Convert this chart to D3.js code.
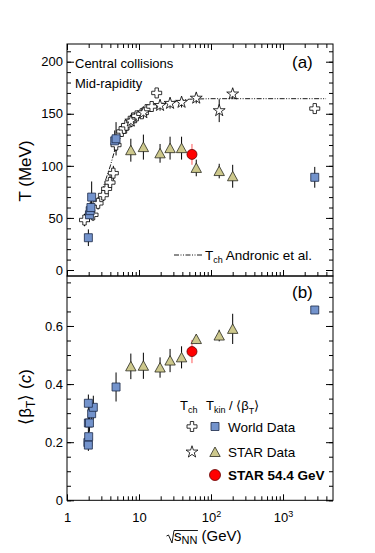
<!DOCTYPE html>
<html>
<head>
<meta charset="utf-8">
<script src="https://cdn.jsdelivr.net/npm/d3@7"></script>
<style>
  body { margin: 0; background: #fff; }
  svg text { font-family: "Liberation Sans", Arial, Helvetica, sans-serif; fill: #000; }
</style>
</head>
<body>
<svg id="chart" width="375" height="553"></svg>
<script>
// ---- data ----
var xMajor = [1, 10, 100, 1000];

// (a) temperatures, MeV
var worldTchE   = [1.75, 2.3, 2.7, 3.2, 3.55, 3.96, 4.4, 4.8, 5.75, 6.2, 6.7, 7.9, 8.3, 9.3, 10.9, 12.8, 15, 17.6, 2760];
var worldTch    = [48, 53, 64, 72, 78, 84, 93, 120, 133, 136, 139, 143, 146, 148, 150, 154, 157, 170, 155];
var worldTchErr = [6, 6, 6, 6, 6, 7, 7, 6, 5, 5, 5, 5, 5, 4, 4, 4, 4, 4, 3];

var worldTkinE   = [1.98, 2.05, 2.1, 2.15, 2.2, 4.6, 4.8, 2760];
var worldTkin    = [31, 53, 57, 60, 70, 124, 126, 89];
var worldTkinErr = [8, 7, 8, 8, 15, 10, 16, 10];

var starE       = [7.7, 11.5, 19.6, 27, 39, 62.4, 130, 200];
var starTch     = [143, 151, 158, 160, 161, 165, 153, 169];
var starTchErr  = [5, 5, 5, 5, 5, 5, 11, 5];
var starTkin    = [115, 118, 112, 117, 117, 98, 95, 90];
var starTkinErr = [11, 12, 9, 11, 11, 8, 7, 11];

var star54E = [54.4];
var star54T = [111], star54TErr = [10];
var star54B = [0.512], star54BErr = [0.04];

// Andronic et al. chemical freeze-out curve
var andronicE = [1.9, 2.2, 2.6, 3, 3.5, 4, 4.6, 5, 6, 7, 8, 10, 12, 15, 20, 30, 50, 100, 1000, 3960];
var andronicT = [46, 55, 66, 74, 88, 100, 115, 122, 131, 137, 142, 148, 153, 157, 160, 162, 164, 164.5, 164.5, 164.5];

// (b) radial flow velocity
var worldBetaE   = [1.95, 1.98, 2.0, 1.98, 2.05, 2.2, 2.32, 1.98, 4.8, 2760];
var worldBeta    = [0.199, 0.19, 0.219, 0.266, 0.266, 0.298, 0.32, 0.334, 0.39, 0.655];
var worldBetaErr = [0.02, 0.02, 0.02, 0.03, 0.03, 0.04, 0.04, 0.03, 0.05, 0.012];

var starBeta    = [0.461, 0.463, 0.457, 0.481, 0.492, 0.555, 0.567, 0.59];
var starBetaErr = [0.044, 0.045, 0.035, 0.04, 0.038, 0.015, 0.02, 0.052];

// ---- layout ----
var X0 = 67, X1 = 333;
var topY0 = 44, midY = 276, botY1 = 500.3;
var blue = '#7393cc', khaki = '#cdc88c', red = '#ff0000';

var svg = d3.select('#chart');
var x  = d3.scaleLog().domain([1, 4945]).range([X0, X1]);
var yT = d3.scaleLinear().domain([-5.76, 217]).range([midY, topY0]);
var yB = d3.scaleLinear().domain([0, 0.772]).range([botY1, midY]);

var xMinor = x.ticks().filter(function(v){ return xMajor.indexOf(v) < 0; });

function zip(E, V, Er){ return E.map(function(e,i){ return {e:e, v:V[i], err:Er[i]}; }); }

function cleanAxis(g, size){
  g.select('.domain').remove();
  g.attr('font-family', null).attr('font-size', size || 13);
  g.selectAll('.tick line').attr('stroke', '#000');
}

// y axes (left with labels, right mirrored), ticks inside
function yAxes(y, major, minor, fmt){
  cleanAxis(svg.append('g').attr('transform','translate('+X0+',0)')
    .call(d3.axisLeft(y).tickValues(major).tickSize(-7).tickPadding(4).tickFormat(fmt)));
  cleanAxis(svg.append('g').attr('transform','translate('+X0+',0)')
    .call(d3.axisLeft(y).tickValues(minor).tickSize(-4).tickFormat('')));
  cleanAxis(svg.append('g').attr('transform','translate('+X1+',0)')
    .call(d3.axisRight(y).tickValues(major).tickSize(-7).tickFormat('')));
  cleanAxis(svg.append('g').attr('transform','translate('+X1+',0)')
    .call(d3.axisRight(y).tickValues(minor).tickSize(-4).tickFormat('')));
}

yAxes(yT, [0,50,100,150,200], yT.ticks(20), d3.format('d'));
yAxes(yB, [0,0.2,0.4,0.6], yB.ticks(15), function(d){ return d === 0 ? '0' : d3.format('.1f')(d); });

// x axes
cleanAxis(svg.append('g').attr('transform','translate(0,'+topY0+')')
  .call(d3.axisTop(x).tickValues(xMajor).tickSize(-6).tickFormat('')));
cleanAxis(svg.append('g').attr('transform','translate(0,'+topY0+')')
  .call(d3.axisTop(x).tickValues(xMinor).tickSize(-4).tickFormat('')));
cleanAxis(svg.append('g').attr('transform','translate(0,'+midY+')')
  .call(d3.axisBottom(x).tickValues(xMajor).tickSize(-6).tickFormat('')));
cleanAxis(svg.append('g').attr('transform','translate(0,'+midY+')')
  .call(d3.axisBottom(x).tickValues(xMinor).tickSize(-4).tickFormat('')));
cleanAxis(svg.append('g').attr('transform','translate(0,'+botY1+')')
  .call(d3.axisBottom(x).tickValues(xMinor).tickSize(-4).tickFormat('')));
var xLab = svg.append('g').attr('transform','translate(0,'+botY1+')')
  .call(d3.axisBottom(x).tickValues(xMajor).tickSize(-6).tickPadding(12).tickFormat(function(d){ return d < 100 ? String(d) : '10'; }));
cleanAxis(xLab);
xLab.selectAll('.tick text').each(function(d){
  var p = Math.round(Math.log10(d));
  if (p >= 2) d3.select(this).append('tspan').attr('dy', -5).attr('font-size', 9).text(p);
});

// frames
svg.append('rect').attr('x', X0).attr('y', topY0).attr('width', X1-X0).attr('height', midY-topY0)
  .attr('fill','none').attr('stroke','#000').attr('stroke-width',1);
svg.append('rect').attr('x', X0).attr('y', midY).attr('width', X1-X0).attr('height', botY1-midY)
  .attr('fill','none').attr('stroke','#000').attr('stroke-width',1);

// marker shapes
var crossPath = 'M-1.7,-5H1.7V-1.7H5V1.7H1.7V5H-1.7V1.7H-5V-1.7H-1.7Z';
var squarePath = 'M-4,-4H4V4H-4Z';
var triPath = 'M0,-5L5.2,4.5L-5.2,4.5Z';
var starPath = d3.symbol(d3.symbolStar).size(44)();

function errBars(y, data, color){
  svg.append('g').selectAll('line').data(data).enter().append('line')
    .attr('x1', function(d){ return x(d.e); }).attr('x2', function(d){ return x(d.e); })
    .attr('y1', function(d){ return y(d.v - d.err); }).attr('y2', function(d){ return y(d.v + d.err); })
    .attr('stroke', color || '#000').attr('stroke-width', 1);
}
function markers(y, data, path, fill, stroke, sw){
  svg.append('g').selectAll('path').data(data).enter().append('path')
    .attr('d', path)
    .attr('transform', function(d){ return 'translate(' + x(d.e) + ',' + y(d.v) + ')'; })
    .attr('fill', fill).attr('stroke', stroke).attr('stroke-width', sw || 0.8);
}
function circles(y, data){
  svg.append('g').selectAll('circle').data(data).enter().append('circle')
    .attr('cx', function(d){ return x(d.e); }).attr('cy', function(d){ return y(d.v); })
    .attr('r', 5).attr('fill', red).attr('stroke', '#600').attr('stroke-width', 0.8);
}

var dashStyle = '5,1.5,1,1.5,1,1.5';

// ---- panel (a) ----
var wTch = zip(worldTchE, worldTch, worldTchErr);
var wTkin = zip(worldTkinE, worldTkin, worldTkinErr);
var sTch = zip(starE, starTch, starTchErr);
var sTkin = zip(starE, starTkin, starTkinErr);
var s54T = zip(star54E, star54T, star54TErr);

errBars(yT, wTch); errBars(yT, sTch); errBars(yT, wTkin); errBars(yT, sTkin);
errBars(yT, s54T, '#ff5a5a');

svg.append('path')
  .datum(andronicE.map(function(e,i){ return [e, andronicT[i]]; }))
  .attr('d', d3.line().x(function(d){ return x(d[0]); }).y(function(d){ return yT(d[1]); }))
  .attr('fill','none').attr('stroke','#000').attr('stroke-width',0.9).attr('stroke-dasharray', dashStyle);

markers(yT, wTch, crossPath, '#fff', '#000');
markers(yT, sTch, starPath, '#fff', '#000');
markers(yT, wTkin, squarePath, blue, '#1c2a48');
markers(yT, sTkin, triPath, khaki, '#2a2a20');
circles(yT, s54T);

// ---- panel (b) ----
var wB = zip(worldBetaE, worldBeta, worldBetaErr);
var sB = zip(starE, starBeta, starBetaErr);
var s54B = zip(star54E, star54B, star54BErr);
errBars(yB, wB); errBars(yB, sB); errBars(yB, s54B, '#ff5a5a');
markers(yB, wB, squarePath, blue, '#1c2a48');
markers(yB, sB, triPath, khaki, '#2a2a20');
circles(yB, s54B);

// ---- texts ----
svg.append('text').attr('x', 75).attr('y', 67.5).attr('font-size', 13).text('Central collisions');
svg.append('text').attr('x', 75).attr('y', 88).attr('font-size', 13).text('Mid-rapidity');
svg.append('text').attr('x', 292).attr('y', 68).attr('font-size', 17).text('(a)');
svg.append('text').attr('x', 292).attr('y', 298).attr('font-size', 17).text('(b)');

// Andronic legend
svg.append('line').attr('x1', 174).attr('x2', 202).attr('y1', 255).attr('y2', 255)
  .attr('stroke','#000').attr('stroke-width',0.9).attr('stroke-dasharray', dashStyle);
var tA = svg.append('text').attr('x', 205).attr('y', 259.5).attr('font-size', 13.5);
tA.append('tspan').text('T');
tA.append('tspan').attr('font-size', 9).attr('dy', 3).text('ch');
tA.append('tspan').attr('dy', -3).text(' Andronic et al.');

// bottom legend
var h1 = svg.append('text').attr('x', 180).attr('y', 410).attr('font-size', 13);
h1.append('tspan').text('T');
h1.append('tspan').attr('font-size', 9).attr('dy', 3).text('ch');
var h2 = svg.append('text').attr('x', 206).attr('y', 410).attr('font-size', 13);
h2.append('tspan').text('T');
h2.append('tspan').attr('font-size', 9).attr('dy', 3).text('kin');
h2.append('tspan').attr('dy', -3).text(' / \u27E8\u03B2');
h2.append('tspan').attr('font-size', 9).attr('dy', 4).text('T');
h2.append('tspan').attr('dy', -4).text('\u27E9');

var legRows = [
  {y: 426.5, a: crossPath, b: squarePath, fb: blue, sb: '#1c2a48', label: 'World Data', bold: false},
  {y: 452, a: starPath, b: triPath, fb: khaki, sb: '#2a2a20', label: 'STAR Data', bold: false},
  {y: 475, a: null, b: null, label: 'STAR 54.4 GeV', bold: true}
];
legRows.forEach(function(r){
  if (r.a) svg.append('path').attr('d', r.a).attr('transform','translate(192,'+r.y+')')
    .attr('fill','#fff').attr('stroke','#000').attr('stroke-width',0.8);
  if (r.b) svg.append('path').attr('d', r.b).attr('transform','translate(215,'+r.y+')')
    .attr('fill', r.fb).attr('stroke', r.sb).attr('stroke-width',0.8);
  else svg.append('circle').attr('cx', 215).attr('cy', r.y).attr('r', 5.5)
    .attr('fill', red).attr('stroke','#600').attr('stroke-width',0.8);
  svg.append('text').attr('x', 228).attr('y', r.y + 5).attr('font-size', 13.5)
    .attr('font-weight', r.bold ? 'bold' : 'normal').text(r.label);
});

// axis titles
svg.append('text').attr('transform','translate(31,171) rotate(-90)')
  .attr('text-anchor','middle').attr('font-size', 17).text('T (MeV)');

var tb = svg.append('text').attr('transform','translate(31,397) rotate(-90)')
  .attr('text-anchor','middle').attr('font-size', 17);
tb.append('tspan').text('\u27E8\u03B2');
tb.append('tspan').attr('font-size', 12).attr('dy', 4).text('T');
tb.append('tspan').attr('dy', -4).text('\u27E9 (');
tb.append('tspan').attr('font-style','italic').text('c');
tb.append('tspan').text(')');

var tx = svg.append('text').attr('x', 174).attr('y', 540.5).attr('font-size', 15);
tx.append('tspan').text('s');
tx.append('tspan').attr('font-size', 11).attr('dy', 3).text('NN');
tx.append('tspan').attr('dy', -3).text(' (GeV)');
var nnEnd = tx.node().getEndPositionOfChar(2).x;
svg.append('path').attr('d', 'M166.5,536L168.5,535L172,543L174,530.5H' + (nnEnd + 0.5))
  .attr('fill','none').attr('stroke','#000').attr('stroke-width',0.9);
</script>
</body>
</html>
